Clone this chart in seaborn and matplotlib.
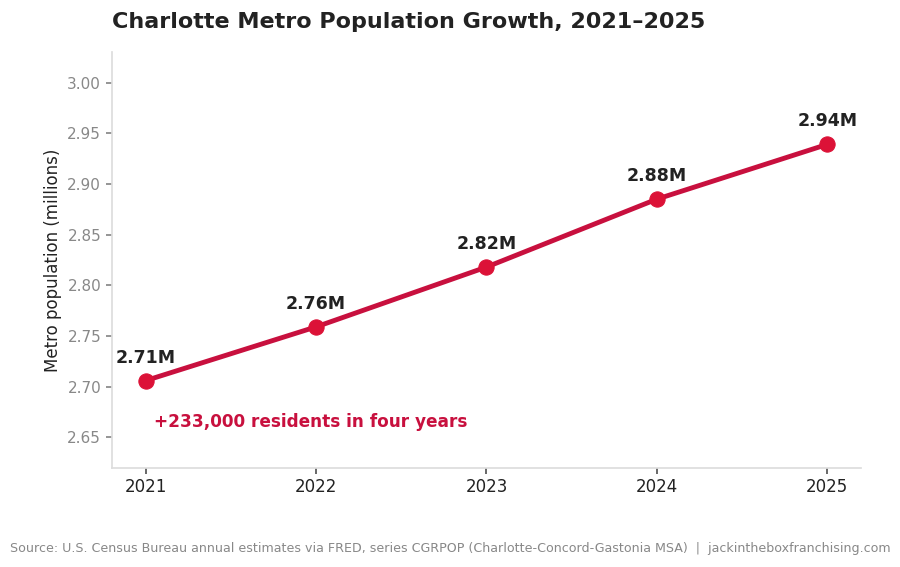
import matplotlib.pyplot as plt
import seaborn as sns
import pandas as pd

years = [2021, 2022, 2023, 2024, 2025]
population = [2.706, 2.759, 2.818, 2.885, 2.939]
labels = ['2.71M', '2.76M', '2.82M', '2.88M', '2.94M']

sns.set_theme(style='white')
plt.rcParams['font.family'] = ['DejaVu Sans']

data = pd.DataFrame({'year': years, 'pop': population})

fig = plt.figure(figsize=(9, 5.67), dpi=100)
ax = fig.add_axes([0.124, 0.175, 0.833, 0.733])

sns.lineplot(x='year', y='pop', data=data, ax=ax, color='#C8103E', linewidth=3.5,
             marker='o', markersize=11, markerfacecolor='#DC1237', markeredgecolor='#DC1237')

for x, y, t in zip(years, population, labels):
    ax.annotate(t, (x, y), xytext=(0, 13), textcoords='offset points', ha='center',
                fontsize=12.5, fontweight='bold', color='#222222')

ax.text(2021.05, 2.665, '+233,000 residents in four years', fontsize=12.2,
        fontweight='bold', color='#C8103E', va='center')

ax.set_xlim(2020.8, 2025.2)
ax.set_ylim(2.62, 3.03)
ax.set_xticks(years)
ax.set_yticks([2.65, 2.70, 2.75, 2.80, 2.85, 2.90, 2.95, 3.00])
ax.yaxis.set_major_formatter(plt.FormatStrFormatter('%.2f'))
ax.tick_params(axis='y', labelsize=11, labelcolor='#888888', color='#888888', length=4, left=True)
ax.tick_params(axis='x', labelsize=12, labelcolor='#222222', color='#555555', length=4, bottom=True)
ax.set_xlabel('')
ax.set_ylabel('Metro population (millions)', fontsize=12, color='#222222')
for s in ['top', 'right']:
    ax.spines[s].set_visible(False)
for s in ['left', 'bottom']:
    ax.spines[s].set_color('#dddddd')

fig.text(0.124, 0.962, 'Charlotte Metro Population Growth, 2021\u20132025', fontsize=16,
         fontweight='bold', color='#222222', va='center')
fig.text(0.5, 0.032, 'Source: U.S. Census Bureau annual estimates via FRED, series CGRPOP '
         '(Charlotte-Concord-Gastonia MSA)  |  jackintheboxfranchising.com',
         fontsize=9.1, color='#888888', ha='center', va='center')

fig.savefig('out.png', dpi=100)
